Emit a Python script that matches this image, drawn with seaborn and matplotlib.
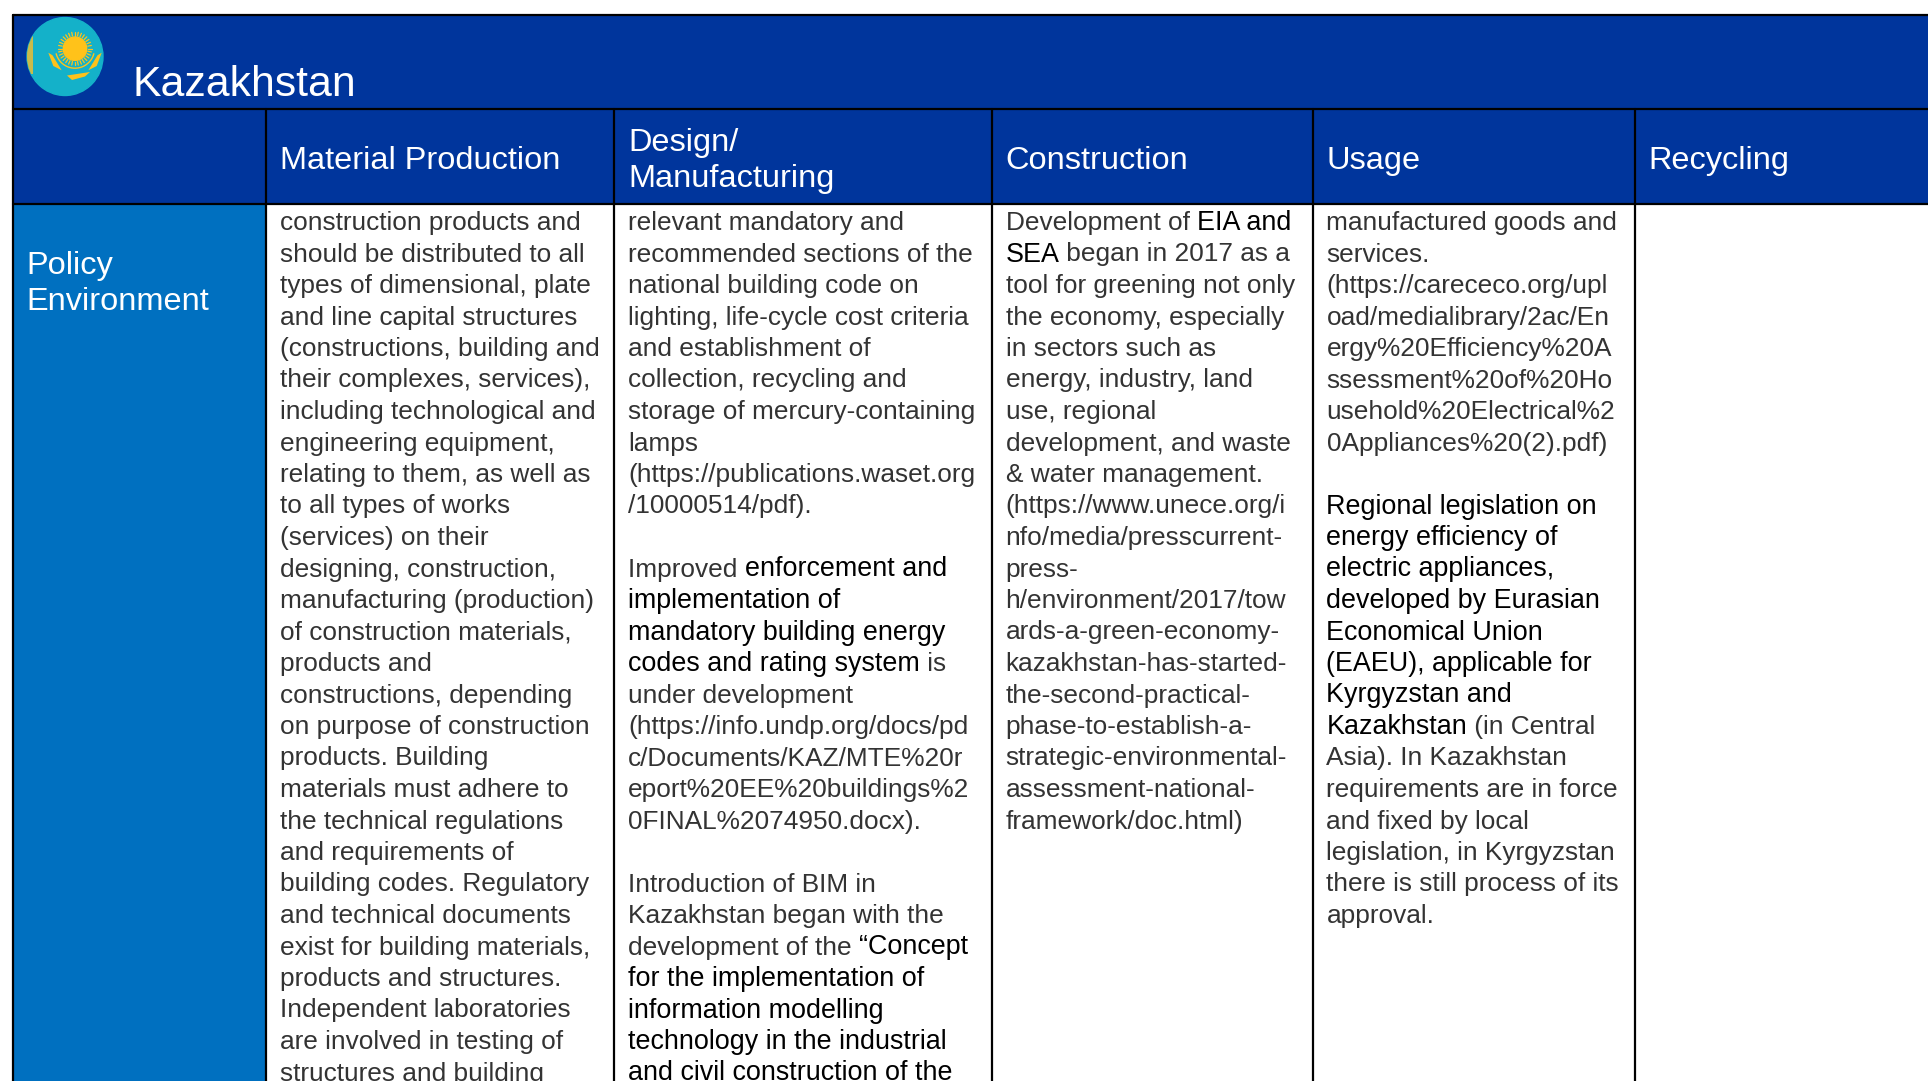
import numpy as np
import seaborn as sns
import matplotlib.pyplot as plt
from matplotlib.colors import ListedColormap
from matplotlib.patches import Ellipse, Circle

sns.set_theme(style="white")
plt.rcParams['font.family'] = ['Liberation Sans', 'DejaVu Sans']

country = "Kazakhstan"
columns = ["Material Production", "Design/\nManufacturing", "Construction", "Usage", "Recycling"]
row_label = "Policy\nEnvironment"

# one string per line, text between ** is the emphasised part
material_lines = [
    "construction products and", "should be distributed to all", "types of dimensional, plate",
    "and line capital structures", "(constructions, building and", "their complexes, services),",
    "including technological and", "engineering equipment,", "relating to them, as well as",
    "to all types of works", "(services) on their", "designing, construction,",
    "manufacturing (production)", "of construction materials,", "products and",
    "constructions, depending", "on purpose of construction", "products. Building",
    "materials must adhere to", "the technical regulations", "and requirements of",
    "building codes. Regulatory", "and technical documents", "exist for building materials,",
    "products and structures.", "Independent laboratories", "are involved in testing of",
    "structures and building",
]
design_lines = [
    "relevant mandatory and", "recommended sections of the", "national building code on",
    "lighting, life-cycle cost criteria", "and establishment of", "collection, recycling and",
    "storage of mercury-containing", "lamps", "(https://publications.waset.org",
    "/10000514/pdf).", "", "Improved **enforcement and", "**implementation of",
    "**mandatory building energy", "**codes and rating system** is", "under development",
    "(https://info.undp.org/docs/pd", "c/Documents/KAZ/MTE%20r", "eport%20EE%20buildings%2",
    "0FINAL%2074950.docx).", "", "Introduction of BIM in", "Kazakhstan began with the",
    "development of the **“Concept", "**for the implementation of", "**information modelling",
    "**technology in the industrial", "**and civil construction of the",
]
construction_lines = [
    "Development of **EIA and", "**SEA** began in 2017 as a", "tool for greening not only",
    "the economy, especially", "in sectors such as", "energy, industry, land",
    "use, regional", "development, and waste", "& water management.",
    "(https://www.unece.org/i", "nfo/media/presscurrent-", "press-",
    "h/environment/2017/tow", "ards-a-green-economy-", "kazakhstan-has-started-",
    "the-second-practical-", "phase-to-establish-a-", "strategic-environmental-",
    "assessment-national-", "framework/doc.html)",
]
usage_lines = [
    "manufactured goods and", "services.", "(https://carececo.org/upl",
    "oad/medialibrary/2ac/En", "ergy%20Efficiency%20A", "ssessment%20of%20Ho",
    "usehold%20Electrical%2", "0Appliances%20(2).pdf)", "",
    "**Regional legislation on", "**energy efficiency of", "**electric appliances,",
    "**developed by Eurasian", "**Economical Union", "**(EAEU), applicable for",
    "**Kyrgyzstan and", "**Kazakhstan** (in Central", "Asia). In Kazakhstan",
    "requirements are in force", "and fixed by local", "legislation, in Kyrgyzstan",
    "there is still process of its", "approval.",
]

W, H = 1928, 1081
col_edges = [13, 266, 614, 992, 1313, 1635, W]
row_edges = [15, 109, 204, H]
text_x = [280.5, 628, 1005.5, 1326.5]
NAVY, BLUE = "#00359c", "#0070c0"

# cell fill codes: 0 white, 1 navy, 2 blue
codes = np.zeros((H, W), dtype=int)
codes[row_edges[0]:row_edges[2], col_edges[0]:] = 1
codes[row_edges[2]:, col_edges[0]:col_edges[1]] = 2

fig = plt.figure(figsize=(W / 100, H / 100), dpi=100)
ax = fig.add_axes([0, 0, 1, 1])
sns.heatmap(codes, ax=ax, cmap=ListedColormap(["white", NAVY, BLUE]), vmin=0, vmax=2,
            cbar=False, xticklabels=False, yticklabels=False)
ax.set_xlim(0, W)
ax.set_ylim(H, 0)

# grid lines
lw = 1.6
ax.plot([col_edges[0], col_edges[0]], [row_edges[0], H], color="black", lw=lw)
ax.plot([col_edges[0], W], [row_edges[0], row_edges[0]], color="black", lw=lw)
for y in row_edges[1:3]:
    ax.plot([col_edges[0], W], [y, y], color="black", lw=lw)
for x in col_edges[1:6]:
    ax.plot([x, x], [row_edges[1], H], color="black", lw=lw)

# flag
disc = Ellipse((65, 56.5), 76, 78, color="#14b1c9")
ax.add_patch(disc)
gold = "#ffc21a"
band = ax.fill([27, 33, 33, 27], [36, 36, 74, 74], color="#c9bb4a", lw=0)[0]
band.set_clip_path(disc)
ax.add_patch(Circle((75, 48.7), 11.7, color=gold))
for a in np.radians(np.arange(0, 360, 11.25)):
    ax.plot([75 + 13 * np.cos(a), 75 + 16.7 * np.cos(a)], [48.7 + 13 * np.sin(a), 48.7 + 16.7 * np.sin(a)],
            color=gold, lw=0.9)
t = np.radians(np.arange(15, 166, 5))
ax.plot(75 + 19.5 * np.cos(t), 48.7 + 19.5 * np.sin(t), color=gold, lw=1.0)
for side in (-1, 1):
    ax.fill([75 + side * 26.7, 75 + side * 22.5, 75 + side * 13.3, 75 + side * 21.7],
            [52.7, 55.3, 70.3, 66], color=gold, lw=0)
ax.fill([67, 90, 85, 72], [75.5, 72, 76.5, 80], color=gold, lw=0)

# headings
ax.text(132, 96, country, color="white", fontsize=30.8, va="baseline")
for x, label in zip(text_x + [1648], columns):
    ax.text(x, 161, label, color="white", fontsize=23.4, va="center", linespacing=1.25)
ax.text(26, 284, row_label, color="white", fontsize=23.4, va="center", linespacing=1.25)

# body text
FS = 18.95
FS_STRONG = 19.4
STEP = 31.5
FIRST = 230
renderer = fig.canvas.get_renderer()


def draw_line(x, y, line):
    parts = line.split("**")
    for i, part in enumerate(parts):
        if not part:
            continue
        strong = i % 2 == 1
        t = ax.text(x, y, part, color="black" if strong else "#333333",
                    fontsize=FS_STRONG if strong else FS, va="baseline")
        # the extent already holds the spaces at the ends of a part
        x = x + t.get_window_extent(renderer).width


for x0, lines in zip(text_x, [material_lines, design_lines, construction_lines, usage_lines]):
    for n, line in enumerate(lines):
        draw_line(x0, FIRST + n * STEP, line)

fig.savefig("out.png", dpi=100)
